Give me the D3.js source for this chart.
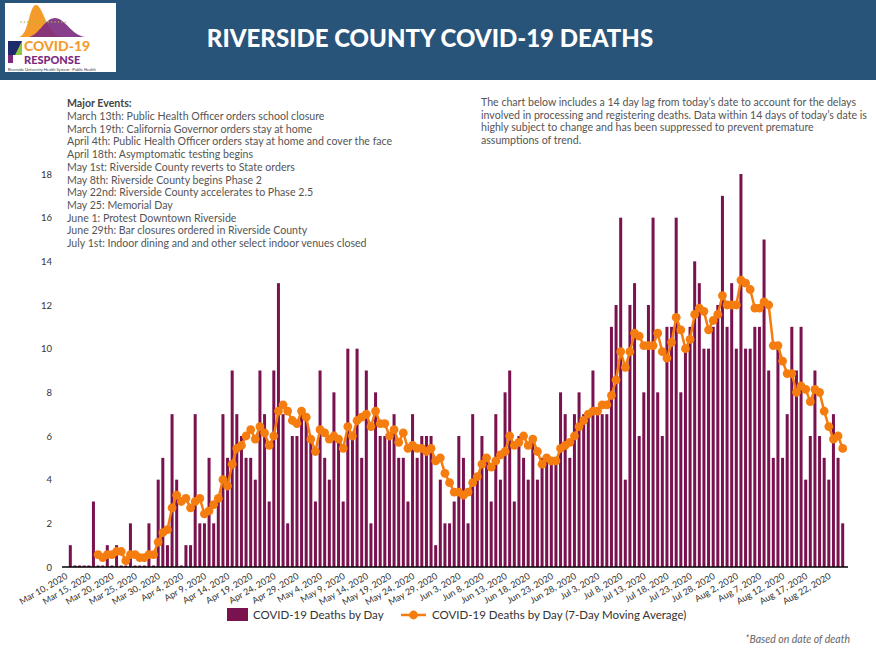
<!DOCTYPE html>
<html>
<head>
<meta charset="utf-8">
<script src="https://cdn.jsdelivr.net/npm/d3@7"></script>
<style>
  body { margin: 0; background: #fff; }
  svg { display: block; font-family: Lato, "Open Sans", sans-serif; }
</style>
</head>
<body>
<div id="chart"></div>
<script>
// Daily deaths, Mar 10 2020 -> Aug 24 2020 (one value per day)
var dailyDeaths = [
  1, 0, 0, 0, 0, 3, 0, 0, 1, 0, 1, 0, 0, 2, 0, 0, 0, 2, 0, 4,
  5, 1, 7, 4, 0, 1, 1, 7, 2, 2, 5, 2, 3, 7, 5, 9, 7, 6, 5, 5,
  4, 9, 7, 3, 9, 13, 7, 2, 6, 6, 7, 7, 6, 3, 9, 5, 4, 8, 6, 3,
  10, 6, 10, 5, 9, 2, 8, 6, 6, 6, 7, 5, 5, 3, 7, 5, 6, 6, 6, 1,
  4, 2, 2, 3, 6, 5, 2, 7, 4, 6, 5, 3, 7, 4, 8, 9, 3, 6, 5, 4,
  6, 4, 5, 5, 5, 5, 8, 7, 5, 7, 8, 7, 7, 9, 7, 7, 7, 11, 12, 16,
  4, 12, 13, 6, 8, 12, 16, 8, 6, 11, 11, 16, 8, 10, 11, 14, 13, 10, 10, 11,
  12, 17, 11, 13, 10, 18, 10, 10, 11, 11, 15, 9, 5, 10, 5, 7, 11, 9, 11, 4,
  6, 9, 6, 5, 4, 7, 5, 2
];

// 7-day moving average as plotted (starts on Mar 16)
var movingAvg = [
  null, null, null, null, null, null,
  0.57, 0.43, 0.57, 0.57, 0.71, 0.71, 0.29, 0.57, 0.57, 0.43, 0.43, 0.57, 0.57, 1.14,
  1.57, 1.71, 2.71, 3.29, 3.00, 3.14, 2.71, 3.00, 3.14, 2.43, 2.57, 2.86, 3.14, 4.00,
  3.71, 4.71, 5.43, 5.57, 6.00, 6.29, 5.86, 6.43, 6.14, 5.57, 6.00, 7.14, 7.43, 7.14,
  6.71, 6.57, 7.14, 6.86, 5.86, 5.29, 6.29, 6.14, 5.86, 6.00, 5.86, 5.43, 6.43, 6.00,
  6.71, 6.86, 7.00, 6.43, 7.14, 6.57, 6.57, 6.00, 6.29, 5.71, 6.14, 5.43, 5.57, 5.43,
  5.43, 5.29, 5.43, 4.86, 5.00, 4.29, 3.86, 3.43, 3.43, 3.29, 3.43, 3.86, 4.14, 4.71,
  5.00, 4.57, 4.86, 5.14, 5.29, 6.00, 5.57, 5.71, 6.00, 5.57, 5.86, 5.29, 4.71, 5.00,
  4.86, 4.86, 5.43, 5.57, 5.71, 6.00, 6.43, 6.71, 7.00, 7.14, 7.14, 7.43, 7.43, 7.86,
  8.57, 9.86, 9.14, 9.86, 10.71, 10.57, 10.14, 10.14, 10.14, 10.71, 9.86, 9.57, 10.29, 11.43,
  10.86, 10.00, 10.43, 11.57, 11.86, 11.71, 10.86, 11.29, 11.57, 12.43, 12.00, 12.00, 12.00, 13.14,
  13.00, 12.71, 11.86, 11.86, 12.14, 12.00, 10.14, 10.14, 9.43, 8.86, 8.86, 8.00, 8.29, 8.14,
  7.57, 8.14, 8.00, 7.14, 6.43, 5.86, 6.00, 5.43
];

var tickLabels = [
  "Mar 10, 2020", "Mar 15, 2020", "Mar 20, 2020", "Mar 25, 2020", "Mar 30, 2020",
  "Apr 4, 2020", "Apr 9, 2020", "Apr 14, 2020", "Apr 19, 2020", "Apr 24, 2020",
  "Apr 29, 2020", "May 4, 2020", "May 9, 2020", "May 14, 2020", "May 19, 2020",
  "May 24, 2020", "May 29, 2020", "Jun 3, 2020", "Jun 8, 2020", "Jun 13, 2020",
  "Jun 18, 2020", "Jun 23, 2020", "Jun 28, 2020", "Jul 3, 2020", "Jul 8, 2020",
  "Jul 13, 2020", "Jul 18, 2020", "Jul 23, 2020", "Jul 28, 2020", "Aug 2, 2020",
  "Aug 7, 2020", "Aug 12, 2020", "Aug 17, 2020", "Aug 22, 2020"
];

var yTicks = [0, 2, 4, 6, 8, 10, 12, 14, 16, 18];

var majorEvents = [
  "March 13th: Public Health Officer orders school closure",
  "March 19th: California Governor orders stay at home",
  "April 4th: Public Health Officer orders stay at home and cover the face",
  "April 18th: Asymptomatic testing begins",
  "May 1st: Riverside County reverts to State orders",
  "May 8th: Riverside County begins Phase 2",
  "May 22nd: Riverside County accelerates to Phase 2.5",
  "May 25: Memorial Day",
  "June 1: Protest Downtown Riverside",
  "June 29th: Bar closures ordered in Riverside County",
  "July 1st: Indoor dining and and other select indoor venues closed"
];

var lagNote = [
  "The chart below includes a 14 day lag from today\u2019s date to account for the delays",
  "involved in processing and registering deaths. Data within 14 days of today\u2019s date is",
  "highly subject to change and has been suppressed to prevent premature",
  "assumptions of trend."
];

var svgWidth = 876;
var svgHeight = 654;
var barColor = "#7a1250";
var lineColor = "#f57d0f";

// category labels (one per day)
var fmt = d3.timeFormat("%b %-d, %Y");
var days = d3.timeDay.range(new Date(2020, 2, 10), new Date(2020, 2, 10 + dailyDeaths.length)).map(fmt);

var svg = d3.select("#chart")
  .append("svg")
  .attr("width", svgWidth)
  .attr("height", svgHeight);

// ---- header band ----
svg.append("rect")
  .attr("width", svgWidth)
  .attr("height", 80)
  .attr("fill", "#29547a");

svg.append("text")
  .attr("x", 430)
  .attr("y", 47)
  .attr("text-anchor", "middle")
  .attr("fill", "#fff")
  .style("font-size", "24px")
  .style("font-weight", "900")
  .text("RIVERSIDE COUNTY COVID-19 DEATHS");

// logo
var logo = svg.append("g").attr("transform", "translate(5,3)");
logo.append("rect").attr("width", 111).attr("height", 69).attr("fill", "#fff");
logo.append("path")
  .attr("d", "M14,34 C24,32 24,2 31,2 C38,2 40,28 56,34 Z")
  .attr("fill", "#f49b2c");
logo.append("path")
  .attr("d", "M24,34 C34,32 40,15 50,15 C60,15 66,32 80,34 Z")
  .attr("fill", "#7b2a7e")
  .attr("opacity", 0.9);
logo.selectAll(".dot")
  .data(d3.range(14))
  .enter().append("circle")
  .attr("cx", d => 16 + d * 3.4)
  .attr("cy", 19)
  .attr("r", 0.8)
  .attr("fill", "#9bbf3a");
logo.append("rect").attr("x", 3).attr("y", 38).attr("width", 14).attr("height", 14).attr("fill", "#1f2a6b");
logo.append("path").attr("d", "M3,52 L17,52 L17,38 L10,52 Z").attr("fill", "#8dc63f");
logo.append("rect").attr("x", 3).attr("y", 52).attr("width", 5).attr("height", 8).attr("fill", "#7b2a7e");
logo.append("text")
  .attr("x", 19).attr("y", 48)
  .attr("fill", "#f49b2c")
  .style("font-size", "14px").style("font-weight", "900")
  .text("COVID-19");
logo.append("text")
  .attr("x", 19).attr("y", 61)
  .attr("fill", "#7b2a7e")
  .style("font-size", "11px").style("font-weight", "900")
  .text("RESPONSE");
logo.append("text")
  .attr("x", 3).attr("y", 67.5)
  .attr("fill", "#333")
  .style("font-size", "4px")
  .text("Riverside University Health System \u00b7 Public Health");

// ---- annotations ----
var ev = svg.append("g").attr("transform", "translate(67,0)");
ev.append("text")
  .attr("x", 0).attr("y", 107)
  .attr("fill", "#444")
  .style("font-size", "10.6px").style("font-weight", "bold")
  .text("Major Events:");
ev.selectAll(".ev")
  .data(majorEvents)
  .enter().append("text")
  .attr("x", 0)
  .attr("y", (d, i) => 120 + i * 12.7)
  .attr("fill", "#555")
  .style("font-size", "10.6px")
  .text(d => d);

svg.selectAll(".lag")
  .data(lagNote)
  .enter().append("text")
  .attr("x", 481)
  .attr("y", (d, i) => 106 + i * 12.6)
  .attr("fill", "#555")
  .style("font-size", "10.6px")
  .text(d => d);

// ---- scales ----
var xScale = d3.scaleBand()
  .domain(days)
  .range([68, 845])
  .paddingInner(0.35)
  .paddingOuter(0.175);

var yScale = d3.scaleLinear()
  .domain([0, 18])
  .range([567, 174]);

// y axis labels only
var yAxis = svg.append("g")
  .attr("transform", "translate(52,0)")
  .call(d3.axisLeft(yScale).tickValues(yTicks).tickSize(0).tickPadding(0));
yAxis.select(".domain").remove();
yAxis.selectAll("text")
  .attr("fill", "#333")
  .style("font-family", "Lato, sans-serif")
  .style("font-size", "9.5px");

// bars
svg.append("g").selectAll("rect")
  .data(dailyDeaths)
  .enter().append("rect")
  .attr("x", (d, i) => xScale(days[i]))
  .attr("width", xScale.bandwidth())
  .attr("y", d => d === 0 ? yScale(0) - 1.5 : yScale(d))
  .attr("height", d => d === 0 ? 1.5 : yScale(0) - yScale(d))
  .attr("fill", barColor);

// x axis
var xAxis = svg.append("g")
  .attr("transform", `translate(0, ${yScale(0)})`)
  .call(d3.axisBottom(xScale).tickValues(tickLabels).tickSize(0).tickSizeOuter(0));
xAxis.select(".domain").remove();
xAxis.selectAll("text")
  .attr("y", 0)
  .attr("dy", null)
  .attr("text-anchor", "end")
  .attr("transform", "translate(-2,11) rotate(-30)")
  .attr("fill", "#333")
  .style("font-family", "Lato, sans-serif")
  .style("font-size", "9px");

svg.append("line")
  .attr("x1", 62).attr("x2", 848)
  .attr("y1", yScale(0)).attr("y2", yScale(0))
  .attr("stroke", "#000")
  .attr("stroke-width", 1.5);

// moving average
var maPoints = movingAvg
  .map((v, i) => ({ day: days[i], v: v }))
  .filter(d => d.v !== null);

var line = d3.line()
  .x(d => xScale(d.day) + xScale.bandwidth() / 2)
  .y(d => yScale(d.v));

svg.append("path")
  .datum(maPoints)
  .attr("d", line)
  .attr("fill", "none")
  .attr("stroke", lineColor)
  .attr("stroke-width", 2.5);

svg.append("g").selectAll("circle")
  .data(maPoints)
  .enter().append("circle")
  .attr("cx", d => xScale(d.day) + xScale.bandwidth() / 2)
  .attr("cy", d => yScale(d.v))
  .attr("r", 4.4)
  .attr("fill", lineColor);

// ---- legend ----
var legend = svg.append("g");
legend.append("rect")
  .attr("x", 227).attr("y", 608)
  .attr("width", 21).attr("height", 13)
  .attr("fill", barColor);
legend.append("text")
  .attr("x", 253).attr("y", 619)
  .attr("fill", "#333")
  .style("font-size", "11.5px")
  .text("COVID-19 Deaths by Day");
legend.append("line")
  .attr("x1", 401).attr("x2", 426)
  .attr("y1", 615).attr("y2", 615)
  .attr("stroke", lineColor).attr("stroke-width", 2.5);
legend.append("circle")
  .attr("cx", 413.5).attr("cy", 615).attr("r", 4.4)
  .attr("fill", lineColor);
legend.append("text")
  .attr("x", 432).attr("y", 619)
  .attr("fill", "#333")
  .style("font-size", "11.5px")
  .text("COVID-19 Deaths by Day (7-Day Moving Average)");

svg.append("text")
  .attr("x", 850).attr("y", 643)
  .attr("text-anchor", "end")
  .attr("fill", "#666")
  .style("font-size", "10.5px")
  .style("font-style", "italic")
  .text("*Based on date of death");
</script>
</body>
</html>
